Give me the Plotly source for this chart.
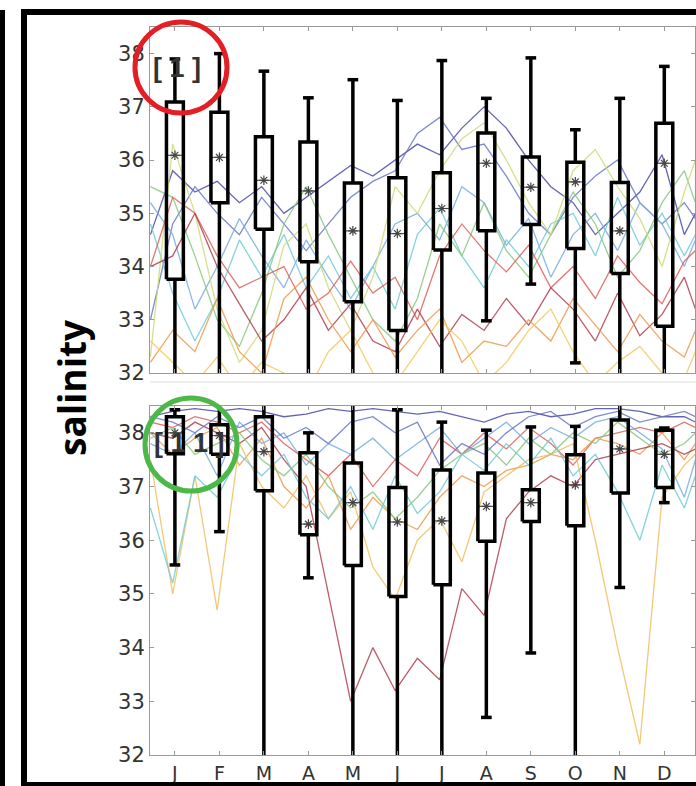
import plotly.graph_objects as go

# ---------------- data ----------------
MONTHS = ["J", "F", "M", "A", "M", "J", "J", "A", "S", "O", "N", "D"]
MONTH_POS = [1, 2, 3, 4, 5, 6, 7, 8, 9, 10, 11, 12]
Y_TICKS = [32, 33, 34, 35, 36, 37, 38]

# top panel [1] box statistics
TOP_LO = [31.0, 31.0, 31.0, 31.0, 31.0, 31.0, 31.0, 32.98, 33.67, 32.19, 31.0, 31.0]
TOP_Q1 = [33.76, 35.20, 34.70, 34.09, 33.34, 32.80, 34.31, 34.67, 34.79, 34.34, 33.87, 32.88]
TOP_MED = [36.09, 36.05, 35.62, 35.42, 34.67, 34.62, 35.09, 35.94, 35.49, 35.59, 34.67, 35.94]
TOP_Q3 = [37.09, 36.90, 36.44, 36.34, 35.57, 35.67, 35.76, 36.51, 36.06, 35.96, 35.58, 36.69]
TOP_HI = [37.90, 38.00, 37.67, 37.17, 37.51, 37.12, 37.87, 37.16, 37.92, 36.57, 37.16, 37.76]

# bottom panel [1 1] box statistics
BOT_LO = [35.54, 36.16, 31.0, 35.30, 31.0, 31.0, 31.0, 32.70, 33.90, 31.0, 35.12, 36.70]
BOT_Q1 = [37.61, 37.60, 36.92, 36.10, 35.53, 34.95, 35.17, 35.98, 36.35, 36.27, 36.88, 36.98]
BOT_MED = [38.00, 37.95, 37.65, 36.30, 36.70, 36.34, 36.36, 36.63, 36.70, 37.03, 37.70, 37.60]
BOT_Q3 = [38.30, 38.15, 38.30, 37.63, 37.44, 36.98, 37.31, 37.25, 36.94, 37.59, 38.24, 38.05]
BOT_HI = [38.43, 38.80, 38.80, 38.00, 38.80, 38.43, 38.20, 38.05, 38.11, 38.12, 38.80, 38.09]

# time axis of the yearly salinity records (in months)
T_X = [0.45, 0.95, 1.45, 1.95, 2.45, 2.95, 3.45, 3.95, 4.45, 4.95, 5.45, 5.95, 6.45,
       6.95, 7.45, 7.95, 8.45, 8.95, 9.45, 9.95, 10.45, 10.95, 11.45, 11.95, 12.45, 12.7]

TOP_SERIES = [
    [34.6, 35.8, 35.4, 35.6, 35.2, 35.5, 35.0, 35.3, 35.6, 35.9, 35.7, 36.0, 36.3,
     36.1, 36.6, 37.0, 36.6, 36.0, 35.5, 35.2, 34.6, 35.0, 35.4, 36.1, 34.6, 35.0],
    [33.0, 34.8, 35.5, 35.0, 34.6, 35.3, 34.8, 34.3, 34.8, 35.3, 35.6, 35.8, 36.5,
     36.8, 36.2, 36.3, 35.7, 35.0, 34.6, 35.3, 35.7, 36.0, 35.2, 34.8, 35.2, 34.9],
    [35.2, 34.6, 33.2, 34.0, 34.9, 34.2, 33.6, 34.5, 33.8, 33.2, 34.0, 34.8, 35.0,
     34.5, 35.5, 35.2, 34.4, 34.9, 33.8, 34.6, 35.0, 34.3, 35.2, 34.8, 34.0, 34.5],
    [34.8, 33.5, 32.6, 33.4, 34.5, 33.8, 34.6, 33.6, 34.2, 33.4, 34.0, 33.2, 34.6,
     35.1, 34.2, 33.6, 34.5, 34.0, 34.8, 35.0, 34.2, 35.3, 34.4, 35.0, 34.2, 34.6],
    [35.5, 35.3, 34.2, 33.0, 32.5, 33.5, 34.8, 35.5, 34.6, 33.8, 33.0, 32.6, 33.4,
     34.8, 34.2, 35.2, 34.3, 33.8, 34.6, 35.4, 34.8, 33.8, 34.3, 35.2, 35.8, 35.2],
    [32.3, 36.3, 35.0, 33.2, 32.2, 32.8, 34.4, 34.8, 33.6, 32.8, 33.8, 35.5, 35.0,
     35.8, 36.4, 36.7, 36.0, 35.2, 34.6, 35.8, 36.2, 35.5, 34.9, 34.0, 35.4, 36.0],
    [34.0, 35.3, 35.0, 34.2, 33.6, 33.8, 34.0, 33.2, 33.5, 34.1, 33.5, 33.8, 33.0,
     34.2, 34.8, 34.3, 33.9, 34.4, 33.6, 34.0, 33.4, 34.2, 33.7, 33.3, 34.1, 34.3],
    [34.0, 34.2, 35.0, 34.0, 33.3, 32.6, 33.0, 33.6, 32.8, 33.3, 32.6, 32.4, 33.2,
     32.5, 33.1, 32.8, 33.4, 32.9, 33.6, 33.2, 32.6, 33.5, 32.7, 33.1, 33.8, 33.2],
    [32.2, 32.8, 32.4, 33.4, 32.4, 32.0, 33.4, 33.8, 33.0, 32.4, 33.0, 32.3, 32.8,
     33.2, 32.2, 32.6, 32.5, 33.0, 32.6, 33.4, 32.9, 32.4, 33.1, 32.6, 32.3, 32.8],
    [32.6, 32.2, 31.8, 32.3, 31.7, 32.2, 32.0, 31.6, 32.4, 32.8, 32.0, 31.8, 32.4,
     33.0, 32.6, 31.8, 32.2, 32.8, 33.2, 32.4, 31.8, 32.2, 32.5, 32.0, 31.9, 32.4],
]

BOT_SERIES = [
    [38.3, 38.4, 38.45, 38.4, 38.45, 38.4, 38.3, 38.35, 38.45, 38.4, 38.45, 38.4, 38.35,
     38.4, 38.3, 38.2, 38.35, 38.4, 38.3, 38.35, 38.45, 38.45, 38.4, 38.3, 38.3, 38.2],
    [38.2, 38.1, 38.3, 38.2, 38.0, 38.2, 37.8, 37.5, 37.2, 37.6, 37.0, 37.5, 37.2,
     37.9, 37.6, 38.0, 37.7, 38.1, 37.8, 37.4, 37.9, 38.0, 38.1, 38.0, 38.2, 38.1],
    [38.0, 37.6, 37.9, 38.1, 37.4, 37.9, 37.0, 36.6, 37.2, 36.2, 36.8, 36.4, 36.2,
     36.8, 37.2, 37.0, 37.3, 37.4, 37.6, 37.5, 37.9, 37.8, 37.6, 38.0, 37.5, 37.8],
    [38.0, 37.9, 38.2, 38.0, 37.8, 38.1, 37.5, 37.0, 35.0, 33.0, 34.0, 33.2, 33.8,
     33.4, 35.1, 34.6, 36.4, 36.9, 37.2, 37.0, 37.5, 37.6, 37.7, 37.8, 37.6, 37.7],
    [37.5, 35.0, 37.2, 34.7, 37.8, 37.0, 36.6, 37.2, 36.4, 36.9, 35.5, 34.9, 36.0,
     36.4, 35.6, 36.9, 37.2, 37.5, 37.6, 37.8, 36.0, 34.0, 32.2, 36.8, 37.4, 37.6],
    [36.6, 35.2, 37.2, 36.8, 37.6, 37.2, 37.6, 36.8, 36.4, 37.0, 36.2, 37.2, 36.5,
     36.9, 37.6, 37.3, 37.8, 37.4, 37.9, 37.2, 37.6, 36.9, 36.0, 37.4, 36.6, 37.2],
    [37.8, 37.6, 38.0, 37.2, 38.2, 37.8, 38.0, 37.4, 37.8, 37.6, 37.9, 37.5, 37.8,
     38.1, 37.6, 37.9, 38.2, 37.8, 38.1, 37.9, 38.2, 38.3, 38.0, 37.7, 36.8, 37.5],
    [37.9, 38.1, 37.6, 37.8, 38.0, 37.5, 37.2, 37.6, 37.0, 36.6, 36.9, 36.4, 36.8,
     37.3, 37.6, 37.8, 37.4, 37.9, 37.6, 38.0, 37.8, 38.2, 37.9, 37.6, 37.8, 38.0],
    [38.3, 38.2, 38.0, 38.3, 38.1, 38.3, 37.9, 38.1, 37.8, 38.2, 38.3, 38.0, 38.2,
     37.4, 37.8, 37.6, 38.0, 38.3, 38.4, 38.1, 38.3, 38.4, 38.2, 38.3, 38.4, 38.3],
]

TOP_COLORS = ["#4a4aa8", "#6a78c8", "#78aee0", "#70ccd8", "#88c880",
              "#cfdc78", "#e0605a", "#b04050", "#ef9a50", "#f2cc60"]
BOT_COLORS = ["#4a4aa8", "#e0605a", "#ef9a50", "#b04050", "#f2c060",
              "#70ccd8", "#78aee0", "#88c880", "#6a78c8"]

# ---------------- figure ----------------
W, H = 696, 786
fig = go.Figure()


def px_x(p):
    return p / W


def px_y(p):
    return 1 - p / H


HW = 0.19   # half box width (months)
CW = 0.12   # half cap width


def add_panel(series, colors, lo, q1, med, q3, hi, xa, ya):
    for s, c in zip(series, colors):
        fig.add_trace(go.Scatter(x=T_X, y=s, mode="lines", xaxis=xa, yaxis=ya,
                                 line=dict(color=c, width=1.3), opacity=0.85,
                                 showlegend=False, hoverinfo="skip"))
    bx, by, wx, wy, cx, cy, mx, my = [], [], [], [], [], [], [], []
    for m, a, b, c, d, e in zip(MONTH_POS, lo, q1, med, q3, hi):
        bx += [m - HW, m + HW, m + HW, m - HW, m - HW, None]
        by += [b, b, d, d, b, None]
        wx += [m, m, None, m, m, None]
        wy += [d, e, None, b, a, None]
        cx += [m - CW, m + CW, None, m - CW, m + CW, None]
        cy += [e, e, None, a, a, None]
        mx += [m - HW, m + HW, None]
        my += [c, c, None]
    fig.add_trace(go.Scatter(x=mx, y=my, mode="lines", xaxis=xa, yaxis=ya,
                             line=dict(color="#555", width=1.2),
                             showlegend=False, hoverinfo="skip"))
    fig.add_trace(go.Scatter(x=MONTH_POS, y=med, mode="markers", xaxis=xa, yaxis=ya,
                             marker=dict(symbol="asterisk-open", size=8, color="#444",
                                         line=dict(color="#444", width=1.2)),
                             showlegend=False, hoverinfo="skip"))
    fig.add_trace(go.Scatter(x=wx, y=wy, mode="lines", xaxis=xa, yaxis=ya,
                             line=dict(color="black", width=3.5),
                             showlegend=False, hoverinfo="skip"))
    fig.add_trace(go.Scatter(x=cx, y=cy, mode="lines", xaxis=xa, yaxis=ya,
                             line=dict(color="black", width=3.5),
                             showlegend=False, hoverinfo="skip"))
    fig.add_trace(go.Scatter(x=bx, y=by, mode="lines", xaxis=xa, yaxis=ya,
                             line=dict(color="black", width=3.5),
                             showlegend=False, hoverinfo="skip"))


add_panel(TOP_SERIES, TOP_COLORS, TOP_LO, TOP_Q1, TOP_MED, TOP_Q3, TOP_HI, "x", "y")
add_panel(BOT_SERIES, BOT_COLORS, BOT_LO, BOT_Q1, BOT_MED, BOT_Q3, BOT_HI, "x2", "y2")

tickfont = dict(family="DejaVu Sans", size=21, color="#333")
xcommon = dict(range=[0.44, 12.69], tickvals=MONTH_POS, ticktext=MONTHS,
               ticks="inside", ticklen=4, tickcolor="#999", showline=True,
               linecolor="#999", linewidth=1, mirror="ticks", showgrid=False,
               zeroline=False, automargin=False,
               tickfont=dict(family="DejaVu Sans", size=19, color="#333"),
               domain=[px_x(150), px_x(695)])
ycommon = dict(range=[32, 38.5], tickvals=Y_TICKS, ticks="inside", ticklen=4,
               tickcolor="#999", showline=True, linecolor="#999", linewidth=1,
               mirror="ticks", showgrid=False, zeroline=False, automargin=False,
               tickfont=tickfont)

fig.update_layout(
    width=W, height=H, margin=dict(l=0, r=0, t=0, b=0),
    paper_bgcolor="white", plot_bgcolor="white", showlegend=False,
    xaxis=dict(xcommon, anchor="y", showticklabels=False),
    yaxis=dict(ycommon, anchor="x", domain=[px_y(373), px_y(27)]),
    xaxis2=dict(xcommon, anchor="y2", showticklabels=True, ticklabelstandoff=1),
    yaxis2=dict(ycommon, anchor="x2", domain=[px_y(755), px_y(406)]),
)

fig.add_annotation(text="<b>salinity</b>", xref="paper", yref="paper",
                   x=px_x(71), y=px_y(388), xanchor="center", yanchor="middle",
                   textangle=-90, showarrow=False,
                   font=dict(family="Open Sans", size=37, color="black"))
fig.add_annotation(text="<b>[ 1 ]</b>", xref="paper", yref="paper",
                   x=px_x(177), y=px_y(68), xanchor="center", yanchor="middle",
                   showarrow=False,
                   font=dict(family="Liberation Sans", size=27, color="#333"))
fig.add_annotation(text="<b>[ 1 1 ]</b>", xref="paper", yref="paper",
                   x=px_x(189), y=px_y(443), xanchor="center", yanchor="middle",
                   showarrow=False,
                   font=dict(family="Liberation Sans", size=27, color="#333"))

shapes = []
# separator line between the panels
shapes.append(dict(type="line", xref="paper", yref="paper", x0=px_x(150), x1=1,
                   y0=px_y(382), y1=px_y(382), line=dict(color="#ddd", width=1)))
# black frame
for x0, x1, y0, y1 in [(0, 5, 10, 786), (21, 27, 9, 786), (21, 696, 9, 15), (21, 696, 782, 786)]:
    shapes.append(dict(type="rect", xref="paper", yref="paper", x0=px_x(x0), x1=px_x(x1),
                       y0=px_y(y1), y1=px_y(y0), fillcolor="black", line=dict(width=0),
                       layer="above"))
# highlight circles
shapes.append(dict(type="circle", xref="paper", yref="paper", x0=px_x(135), x1=px_x(227),
                   y0=px_y(113), y1=px_y(22), line=dict(color="#e31e24", width=5), layer="above"))
shapes.append(dict(type="circle", xref="paper", yref="paper", x0=px_x(145), x1=px_x(237),
                   y0=px_y(491), y1=px_y(398), line=dict(color="#4cb847", width=5), layer="above"))
fig.update_layout(shapes=shapes)

fig.write_html("out.html")
